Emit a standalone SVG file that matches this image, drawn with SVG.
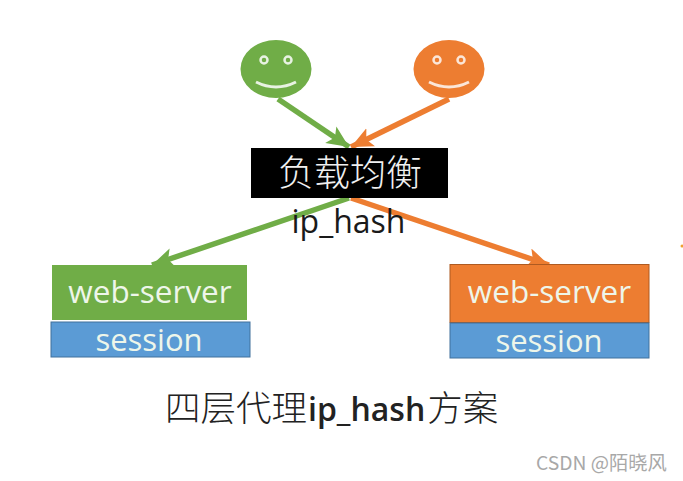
<svg xmlns="http://www.w3.org/2000/svg" width="683" height="481" viewBox="0 0 683 481">
<style>
.lat{font-family:"Open Sans","Noto Sans","Liberation Sans",sans-serif}
.cjk{font-family:"Noto Sans CJK SC","Noto Sans CJK JP",sans-serif;font-weight:300}
.w{fill:#eef6ea;text-anchor:middle;font-weight:500}
.eye{fill:#70ad47;stroke:#e8f2e2;stroke-width:2.500}
.eyeo{fill:#ed7d31;stroke:#fbe6d8;stroke-width:2.500}
.g{stroke:#70ad47;stroke-width:5.500;fill:none}
.o{stroke:#ed7d31;stroke-width:5.500;fill:none}
</style>
<defs>
<marker id="ag" markerUnits="userSpaceOnUse" markerWidth="24" markerHeight="22" refX="22" refY="10" orient="auto"><path d="M0 0L22 10L0 20L5 10Z" fill="#70ad47"/></marker>
<marker id="ao" markerUnits="userSpaceOnUse" markerWidth="24" markerHeight="22" refX="22" refY="10" orient="auto"><path d="M0 0L22 10L0 20L5 10Z" fill="#ed7d31"/></marker>
</defs>
<rect width="683" height="481" fill="#fff"/>
<g id="connectors">
<line class="g" x1="278" y1="99" x2="349" y2="147" marker-end="url(#ag)"/>
<line class="o" x1="449" y1="99" x2="351" y2="147" marker-end="url(#ao)"/>
<line class="g" x1="349" y1="198" x2="152" y2="265" marker-end="url(#ag)"/>
<line class="o" x1="351" y1="198" x2="549" y2="265" marker-end="url(#ao)"/>
</g>
<g id="user-green">
<ellipse cx="276" cy="69" rx="35.500" ry="29" fill="#70ad47"/>
<circle class="eye" cx="264" cy="60" r="3.500"/>
<circle class="eye" cx="288" cy="60" r="3.500"/>
<path d="M256 82Q276 92 296 82" fill="none" stroke="#e8f2e2" stroke-width="3"/>
</g>
<g id="user-orange">
<ellipse cx="449" cy="69" rx="35.500" ry="29" fill="#ed7d31"/>
<circle class="eyeo" cx="437" cy="60" r="3.500"/>
<circle class="eyeo" cx="461" cy="60" r="3.500"/>
<path d="M429 82Q449 92 469 82" fill="none" stroke="#fbe6d8" stroke-width="3"/>
</g>
<g id="balancer">
<rect x="251" y="148" width="197" height="50" fill="#000"/>
<text class="cjk" x="350" y="186" font-size="36" fill="#f0f0f0" text-anchor="middle">负载均衡</text>
</g>
<g id="ip-hash-label">
<text class="lat" x="348.500" y="233" font-size="32" fill="#1a1a1a" text-anchor="middle">ip_hash</text>
</g>
<g id="server-left">
<rect x="52" y="265" width="195" height="55" fill="#70ad47"/>
<text class="lat w" x="150" y="303" font-size="31.500">web-server</text>
</g>
<g id="session-left">
<rect x="51" y="322" width="199" height="35" fill="#5b9bd5" stroke="#41719c"/>
<text class="lat w" x="149" y="351" font-size="31">session</text>
</g>
<g id="server-right">
<rect x="450" y="264.500" width="199" height="58" fill="#ed7d31" stroke="#ae5a21"/>
<text class="lat w" x="549.500" y="303" font-size="31.500">web-server</text>
</g>
<g id="session-right">
<rect x="450" y="323" width="199" height="35" fill="#5b9bd5" stroke="#41719c"/>
<text class="lat w" x="549" y="352" font-size="31">session</text>
</g>
<g id="caption">
<text x="165" y="421" font-size="35.500" fill="#222"><tspan class="cjk">四层代理</tspan><tspan class="lat" font-size="32" font-weight="600" dx="1">ip_hash</tspan><tspan class="cjk" dx="2">方案</tspan></text>
</g>
<text id="watermark" class="cjk" x="536" y="470" font-size="19.300" fill="#a8a8a8" style="font-weight:400">CSDN @陌晓风</text>
<circle cx="682" cy="246" r="1.500" fill="#f0a030"/>
</svg>
